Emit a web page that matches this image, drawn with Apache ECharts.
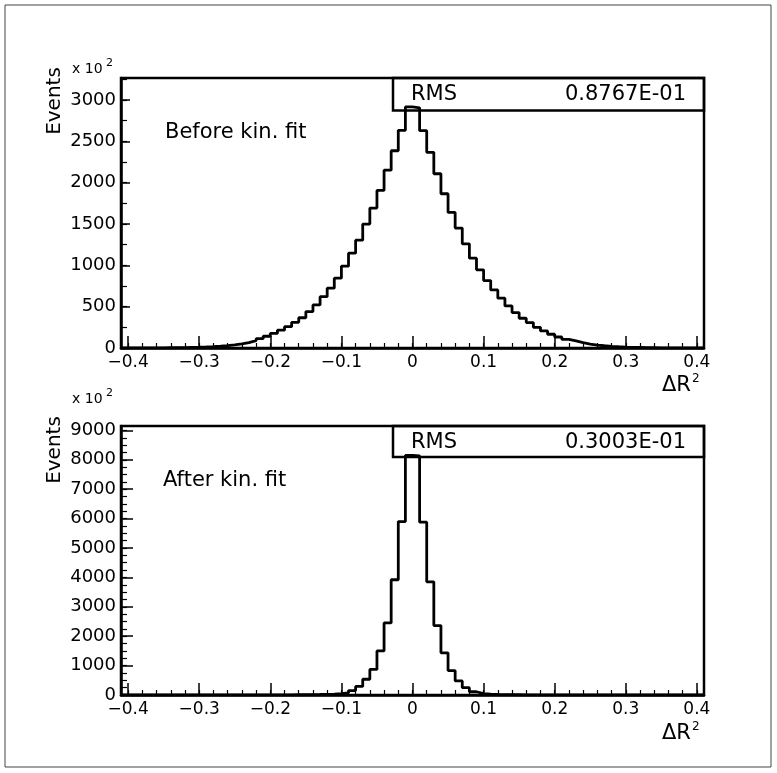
<!DOCTYPE html>
<html><head><meta charset="utf-8">
<script src="https://cdn.jsdelivr.net/npm/echarts@6/dist/echarts.min.js"></script>
<style>html,body{margin:0;padding:0;background:#fff}#c{width:777px;height:773px}</style>
</head><body><div id="c"></div>
<script>
// ---- data ----
const binLow = -0.41;
const binWidth = 0.01;
const beforeFit = [
  0, 1, 1, 1, 2, 2, 3, 4, 5, 7, 9, 12, 16, 21, 28, 37, 50, 66, 88, 113, 142,
  176, 216, 258, 310, 366, 440, 521, 621, 723, 844, 990, 1147, 1304, 1498, 1692,
  1905, 2150, 2385, 2632, 2915,
  2905, 2628, 2366, 2107, 1865, 1639, 1450, 1260, 1086, 945, 815, 702, 602, 509,
  428, 360, 307, 250, 206, 166, 133, 105, 85, 64, 48, 36, 27, 20, 15, 11, 8, 6,
  4, 3, 2, 2, 1, 1, 1, 0, 0
];
const afterFit = [
  0, 0, 0, 0, 0, 0, 0, 0, 0, 1, 1, 1, 1, 1, 1, 2, 2, 2, 3, 3, 4, 5, 6, 7, 9, 11,
  14, 18, 24, 32, 45, 70, 150, 290, 535, 870, 1500, 2450, 3920, 5900, 8150,
  8130, 5880, 3850, 2360, 1435, 830, 480, 250, 110, 50, 30, 20, 14, 10, 8, 6, 5,
  4, 3, 3, 2, 2, 2, 1, 1, 1, 1, 1, 1, 0, 0, 0, 0, 0, 0, 0, 0, 0, 0, 0, 0
];
const xMajorTicks = [-0.4, -0.3, -0.2, -0.1, 0, 0.1, 0.2, 0.3, 0.4];
const xTickLabels = ['\u22120.4', '\u22120.3', '\u22120.2', '\u22120.1', '0', '0.1', '0.2', '0.3', '0.4'];
const yTicksTop = [0, 500, 1000, 1500, 2000, 2500, 3000];
const yTicksBottom = [0, 1000, 2000, 3000, 4000, 5000, 6000, 7000, 8000, 9000];
const yMaxTop = 3265;
const yMaxBottom = 9150;
const panelTitles = ['Before kin. fit', 'After kin. fit'];
const rmsValues = ['0.8767E-01', '0.3003E-01'];

// ---- derived ----
const xMinorTicks = [];
for (let i = -20; i <= 20; i++) xMinorTicks.push(+(i * 0.02).toFixed(2));
function minorList(max, step) { const a = []; for (let v = 0; v <= max; v += step) a.push(v); return a; }
const yMinorTop = minorList(3250, 250);
const yMinorBottom = minorList(9000, 250);

function histPoints(vals) {
  const pts = [[binLow, 0]];
  vals.forEach((v, i) => pts.push([binLow + i * binWidth, v]));
  pts.push([binLow + vals.length * binWidth, 0]);
  return pts;
}
const FONT = 'DejaVu Sans';
function xLabel(v) {
  const i = xMajorTicks.findIndex(t => Math.abs(t - v) < 1e-9);
  return i >= 0 ? xTickLabels[i] : '';
}

function xAxes(g) {
  return [
    { gridIndex: g, type: 'value', position: 'bottom', min: -0.41, max: 0.41,
      axisLine: { show: true, onZero: false, lineStyle: { color: '#000', width: 2.5 } },
      axisTick: { show: true, inside: true, length: 12, customValues: xMajorTicks, lineStyle: { color: '#000', width: 1.5 } },
      axisLabel: { show: true, customValues: xMajorTicks, formatter: xLabel, fontSize: 17, fontFamily: FONT, color: '#000', margin: 6 },
      splitLine: { show: false } },
    { gridIndex: g, type: 'value', position: 'bottom', min: -0.41, max: 0.41,
      axisLine: { show: false, onZero: false },
      axisTick: { show: true, inside: true, length: 5, customValues: xMinorTicks, lineStyle: { color: '#000', width: 1.2 } },
      axisLabel: { show: false }, splitLine: { show: false } }
  ];
}
function yAxes(g, max, major, minor, majLen) {
  return [
    { gridIndex: g, type: 'value', position: 'left', min: 0, max: max,
      axisLine: { show: true, onZero: false, lineStyle: { color: '#000', width: 2.5 } },
      axisTick: { show: true, inside: true, length: majLen, customValues: major, lineStyle: { color: '#000', width: 1.5 } },
      axisLabel: { show: true, customValues: major, formatter: v => String(Math.round(v)), fontSize: 18, fontFamily: FONT, color: '#000', margin: 5 },
      splitLine: { show: false } },
    { gridIndex: g, type: 'value', position: 'left', min: 0, max: max,
      axisLine: { show: false, onZero: false },
      axisTick: { show: true, inside: true, length: 6, customValues: minor, lineStyle: { color: '#000', width: 1.2 } },
      axisLabel: { show: false }, splitLine: { show: false } }
  ];
}

const grids = [
  { left: 121, top: 78, width: 583, height: 270 },
  { left: 121, top: 426, width: 583, height: 269 }
];

const chart = echarts.init(document.getElementById('c'), null, { renderer: 'canvas' });

function txt(x, y, text, size, align, valign, extra) {
  return Object.assign({ type: 'text', x: x, y: y, z: 10,
    style: { text: text, fontSize: size, fontFamily: FONT, fill: '#000', align: align, verticalAlign: valign } }, extra || {});
}

const graphic = [
  { type: 'rect', shape: { x: 5, y: 5, width: 766, height: 762 }, style: { fill: 'none', stroke: '#444', lineWidth: 1 }, z: 0 },
  { type: 'rect', shape: { x: 393, y: 78, width: 311, height: 32.5 }, style: { fill: 'none', stroke: '#000', lineWidth: 2.5 }, z: 9 },
  { type: 'rect', shape: { x: 393, y: 426, width: 311, height: 31 }, style: { fill: 'none', stroke: '#000', lineWidth: 2.5 }, z: 9 },
  txt(411, 95, 'RMS', 21, 'left', 'middle'),
  txt(686, 95, rmsValues[0], 21, 'right', 'middle'),
  txt(411, 443, 'RMS', 21, 'left', 'middle'),
  txt(686, 443, rmsValues[1], 21, 'right', 'middle'),
  txt(165, 133, panelTitles[0], 21, 'left', 'middle'),
  txt(163, 481, panelTitles[1], 21, 'left', 'middle'),
  txt(72, 69, 'x 10', 14, 'left', 'middle'),
  txt(106, 63, '2', 11, 'left', 'middle'),
  txt(72, 399, 'x 10', 14, 'left', 'middle'),
  txt(106, 393, '2', 11, 'left', 'middle'),
  txt(55, 101, 'Events', 20, 'center', 'middle', { rotation: Math.PI / 2 }),
  txt(55, 450, 'Events', 20, 'center', 'middle', { rotation: Math.PI / 2 }),
  txt(662, 386, '\u0394R', 21, 'left', 'middle'),
  txt(692, 379, '2', 12, 'left', 'middle'),
  txt(662, 734, '\u0394R', 21, 'left', 'middle'),
  txt(692, 727, '2', 12, 'left', 'middle')
];

chart.setOption({
  animation: false,
  backgroundColor: '#fff',
  grid: grids.map(g => Object.assign({ show: true, borderColor: '#000', borderWidth: 2.5, backgroundColor: 'transparent', containLabel: false }, g)),
  xAxis: [].concat(xAxes(0), xAxes(1)),
  yAxis: [].concat(yAxes(0, yMaxTop, yTicksTop, yMinorTop, 9), yAxes(1, yMaxBottom, yTicksBottom, yMinorBottom, 12)),
  series: [
    { type: 'line', xAxisIndex: 0, yAxisIndex: 0, data: histPoints(beforeFit), step: 'end', symbol: 'none',
      lineStyle: { color: '#000', width: 2.8 }, z: 5 },
    { type: 'line', xAxisIndex: 2, yAxisIndex: 2, data: histPoints(afterFit), step: 'end', symbol: 'none',
      lineStyle: { color: '#000', width: 2.8 }, z: 5 }
  ],
  graphic: graphic
});
</script>
</body></html>
